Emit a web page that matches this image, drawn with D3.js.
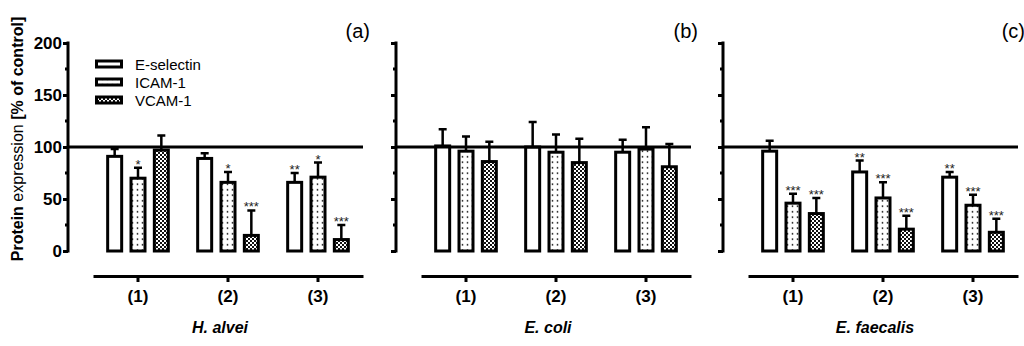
<!DOCTYPE html>
<html>
<head>
<meta charset="utf-8">
<script src="https://cdn.jsdelivr.net/npm/d3@7"></script>
<style>
  body { margin: 0; background: #fff; }
  svg { font-family: "Liberation Sans", Arial, sans-serif; }
</style>
</head>
<body>
<div id="chart"></div>
<script>
const width = 1024; const height = 346;

// data
const categories = ["(1)", "(2)", "(3)"];
const series = ["E-selectin", "ICAM-1", "VCAM-1"];
const panelTags = ["(a)", "(b)", "(c)"];
const bacteria = ["H. alvei", "E. coli", "E. faecalis"];
const yTicks = [0, 50, 100, 150, 200];
const yMinor = [25, 75, 125, 175];

// mean per group: [E-selectin, ICAM-1, VCAM-1]
const halveiMean = [[91, 70, 97], [89, 66, 15], [66, 71, 11]];
const halveiErr  = [[7, 10, 14], [5, 10, 24], [9, 14, 14]];
const halveiSig  = [["", "*", ""], ["", "*", "***"], ["**", "*", "***"]];

const ecoliMean = [[101, 96, 86], [100, 95, 85], [95, 98, 81]];
const ecoliErr  = [[16, 14, 19], [24, 17, 23], [12, 21, 22]];
const ecoliSig  = [["", "", ""], ["", "", ""], ["", "", ""]];

const faecalisMean = [[96, 46, 36], [76, 51, 21], [71, 44, 18]];
const faecalisErr  = [[10, 9, 15], [11, 15, 13], [5, 10, 13]];
const faecalisSig  = [["", "***", "***"], ["**", "***", "***"], ["**", "***", "***"]];

const panels = [
  {mean: halveiMean, err: halveiErr, sig: halveiSig},
  {mean: ecoliMean, err: ecoliErr, sig: ecoliSig},
  {mean: faecalisMean, err: faecalisErr, sig: faecalisSig}
];
const panelX = [68, 396, 723];

const svg = d3.select("#chart").append("svg")
    .attr("width", width)
    .attr("height", height);

// fill patterns
const defs = svg.append("defs");
const dots = defs.append("pattern")
    .attr("id", "dots")
    .attr("patternUnits", "userSpaceOnUse")
    .attr("width", 5).attr("height", 5.5);
dots.append("rect").attr("width", 5).attr("height", 5.5).attr("fill", "#fff");
dots.append("circle").attr("cx", 2.5).attr("cy", 2.75).attr("r", 0.9).attr("fill", "#222");

const checks = defs.append("pattern")
    .attr("id", "checks")
    .attr("patternUnits", "userSpaceOnUse")
    .attr("width", 4).attr("height", 4);
checks.append("rect").attr("width", 4).attr("height", 4).attr("fill", "#111");
checks.append("rect").attr("width", 2).attr("height", 2).attr("fill", "#fff");
checks.append("rect").attr("x", 2).attr("y", 2).attr("width", 2).attr("height", 2).attr("fill", "#fff");

const fills = d3.scaleOrdinal()
    .domain(series)
    .range(["#fff", "url(#dots)", "url(#checks)"]);

const y = d3.scaleLinear().domain([0, 200]).range([251, 43]);

panels.forEach(function(p, pi) {
    const x0 = panelX[pi];
    const g = svg.append("g");

    const xGroup = d3.scaleBand()
        .domain(categories)
        .range([x0 + 25, x0 + 295]);
    const xSeries = d3.scaleBand()
        .domain(series)
        .range([-35, 35]);
    const barW = 14;

    // value axis
    const yAxis = d3.axisLeft(y)
        .tickValues(yTicks)
        .tickSize(5)
        .tickSizeOuter(0)
        .tickFormat(pi === 0 ? d3.format("d") : "");
    const ya = g.append("g")
        .attr("transform", `translate(${x0},0)`)
        .call(yAxis);
    ya.select(".domain").attr("stroke-width", 3).attr("d", `M0,${y(200) - 1.5}V${y(0) + 1.5}`);
    ya.selectAll(".tick line").attr("stroke-width", 3);
    ya.selectAll(".tick text")
        .attr("font-size", "17px")
        .attr("font-weight", "bold")
        .attr("font-family", "Liberation Sans, Arial, sans-serif")
        .attr("x", -6);
    ya.selectAll(".minor")
        .data(yMinor)
        .enter().append("line")
        .attr("x1", -3).attr("x2", 0)
        .attr("y1", d => y(d)).attr("y2", d => y(d))
        .attr("stroke", "#000").attr("stroke-width", 3);

    // category axis
    const xAxis = d3.axisBottom(xGroup)
        .tickSize(6)
        .tickSizeOuter(0);
    const xa = g.append("g")
        .attr("transform", "translate(0,276)")
        .call(xAxis);
    xa.select(".domain").attr("stroke-width", 3);
    xa.selectAll(".tick line").attr("stroke-width", 3);
    xa.selectAll(".tick text")
        .attr("font-size", "17px")
        .attr("font-weight", "bold")
        .attr("font-family", "Liberation Sans, Arial, sans-serif")
        .attr("y", 14);

    // bars
    const rows = [];
    categories.forEach(function(c, ci) {
        series.forEach(function(s, si) {
            rows.push({cat: c, ser: s, mean: p.mean[ci][si], err: p.err[ci][si], sig: p.sig[ci][si]});
        });
    });
    const centre = d => xGroup(d.cat) + xGroup.bandwidth() / 2 + xSeries(d.ser) + xSeries.bandwidth() / 2;

    // error bars (upper only)
    g.selectAll(".err")
        .data(rows)
        .enter().append("path")
        .attr("d", d => `M${centre(d)},${y(d.mean)}V${y(d.mean + d.err)}M${centre(d) - 4},${y(d.mean + d.err)}H${centre(d) + 4}`)
        .attr("stroke", "#000")
        .attr("stroke-width", 2.5)
        .attr("fill", "none");

    g.selectAll(".bar")
        .data(rows)
        .enter().append("rect")
        .attr("x", d => centre(d) - barW / 2)
        .attr("y", d => y(d.mean))
        .attr("width", barW)
        .attr("height", d => y(0) - y(d.mean))
        .attr("fill", d => fills(d.ser))
        .attr("stroke", "#000")
        .attr("stroke-width", 3);

    // significance stars
    g.selectAll(".sig")
        .data(rows.filter(d => d.sig))
        .enter().append("text")
        .attr("x", d => centre(d))
        .attr("y", d => y(d.mean + d.err) + 1)
        .attr("text-anchor", "middle")
        .attr("font-size", "13px")
        .attr("fill", "#222")
        .text(d => d.sig);

    // reference line at 100 %
    g.append("line")
        .attr("x1", x0).attr("x2", x0 + 295)
        .attr("y1", y(100)).attr("y2", y(100))
        .attr("stroke", "#000").attr("stroke-width", 3);

    // panel tag
    g.append("text")
        .attr("x", x0 + 302)
        .attr("y", 38)
        .attr("text-anchor", "end")
        .attr("font-size", "20px")
        .text(panelTags[pi]);

    // bacterium name
    g.append("text")
        .attr("x", xGroup("(2)") + xGroup.bandwidth() / 2 - 8)
        .attr("y", 333)
        .attr("text-anchor", "middle")
        .attr("font-size", "16px")
        .attr("font-weight", "bold")
        .attr("font-style", "italic")
        .text(bacteria[pi]);
});

// y axis title
const yTitle = svg.append("text")
    .attr("transform", "translate(23,139) rotate(-90)")
    .attr("text-anchor", "middle")
    .attr("font-size", "16px");
yTitle.append("tspan").attr("font-weight", "bold").text("Protein");
yTitle.append("tspan").text(" expression ");
yTitle.append("tspan").attr("font-weight", "bold").text("[% of control]");

// legend
const legend = svg.append("g").attr("transform", "translate(95,64)");
const li = legend.selectAll("g")
    .data(series)
    .enter().append("g")
    .attr("transform", (d, i) => `translate(0,${i * 18})`);
li.append("rect")
    .attr("x", 1.5).attr("y", -3)
    .attr("width", 25).attr("height", 6)
    .attr("fill", d => fills(d))
    .attr("stroke", "#000").attr("stroke-width", 3);
li.append("text")
    .attr("x", 40)
    .attr("y", 5.5)
    .attr("font-size", "15px")
    .text(d => d);
</script>
</body>
</html>
